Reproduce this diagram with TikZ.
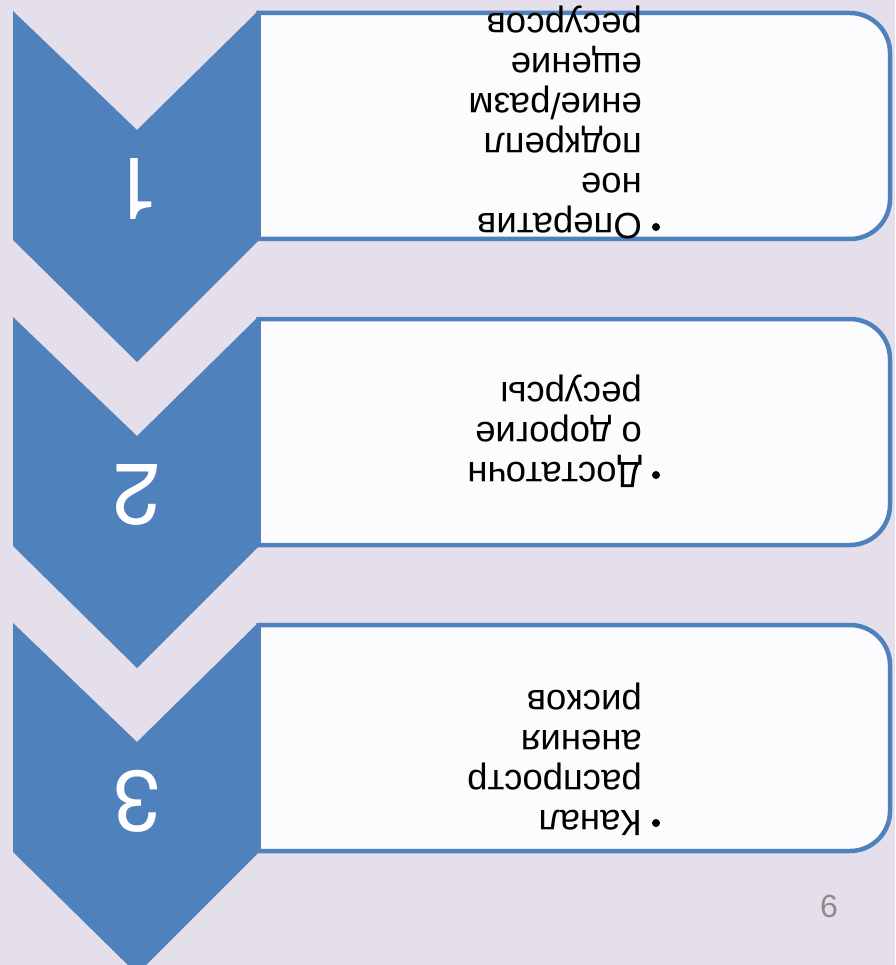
\documentclass[tikz,border=0pt]{standalone}
\usepackage{fontspec}
\setmainfont{Liberation Sans}
\newfontfamily\digitfont{TeX Gyre Heros}
\definecolor{chevblue}{HTML}{4F81BD}
\definecolor{slidebg}{HTML}{E5DFEC}
\definecolor{boxfill}{HTML}{FCFCFE}
\def\chev{-- ++(124,119) -- ++(121,-119) -- ++(0,230) -- ++(-121,121) -- ++(-124,-122) -- cycle}
\def\tbox{-- ++(591.5,0) arc[start angle=-90,end angle=0,radius=40] -- ++(0,146) arc[start angle=0,end angle=90,radius=40] -- ++(-591.5,0) -- cycle}
\def\dchev{\fill[chevblue]}
\def\dbox{\draw[chevblue,line width=4.5,fill=boxfill]}

\begin{document}
\begin{tikzpicture}[x=1pt,y=-1pt,
    num/.style={text=white,font=\digitfont\fontsize{86}{86}\selectfont,rotate=180,inner sep=0},
    txt/.style={font=\fontsize{36.5}{40}\selectfont,rotate=180,anchor=base west,inner sep=0},
    dot/.style={circle,fill=black,inner sep=0,minimum size=8},
    pnum/.style={text=black!45,font=\fontsize{32}{32}\selectfont,inner sep=0}]
                \fill[slidebg] (0,0) rectangle (895,965);
                \useasboundingbox (0,0) rectangle (895,965);
                \dchev (13, 11) \chev;
                \dbox  (258.5, 13) \tbox;
                \dchev (13,317) \chev;
                \dbox  (258.5,319) \tbox;
                \dchev (13,623) \chev;
                \dbox  (258.5,625) \tbox;
                \node[num] (n1) at (137,189) {1};
                \node[num] (n2) at (137,495) {2};
                \node[num] (n3) at (137,801) {3};
                \node[dot] (d1) at (656,227) {};
                \foreach \t [count=\i from 0] in {Оператив,ное,подкрепл,ение/разм,ещение,ресурсов}
                    \node[txt] (a\i) at (642,{214-40*\i}) {\t};
                \node[dot] (d2) at (656,475) {};
                \foreach \t [count=\i from 0] in {Достаточн,о дорогие,ресурсы}
                    \node[txt] (b\i) at (642,{462-40*\i}) {\t};
                \node[dot] (d3) at (656,823) {};
                \foreach \t [count=\i from 0] in {Канал,распростр,анения,рисков}
                    \node[txt] (c\i) at (642,{810-40*\i}) {\t};
                \node[pnum] (pg) at (829,906.5) {6};
            \end{tikzpicture}
\end{document}
